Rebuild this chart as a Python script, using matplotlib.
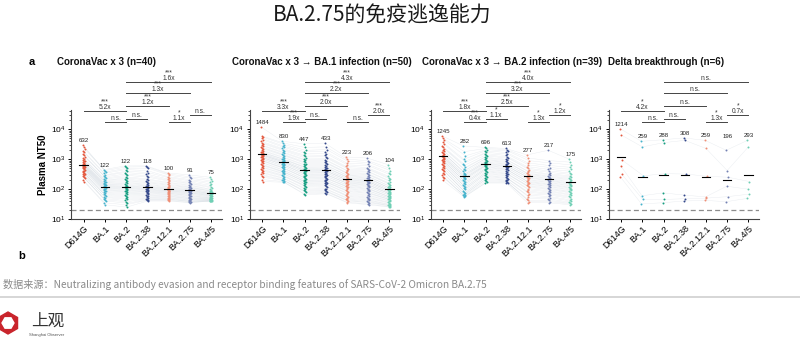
import numpy as np
import matplotlib
matplotlib.use('Agg')
import matplotlib.pyplot as plt
from matplotlib.patches import RegularPolygon
from matplotlib.transforms import blended_transform_factory

plt.rcParams['font.family'] = ['Liberation Sans', 'DejaVu Sans']
plt.rcParams['mathtext.fontset'] = 'custom'
plt.rcParams['mathtext.rm'] = 'Liberation Sans'
CJK = ['Noto Sans CJK SC', 'DejaVu Sans']

variants = ['D614G', 'BA.1', 'BA.2', 'BA.2.38', 'BA.2.12.1', 'BA.2.75', 'BA.4/5']
colors = ['#e4573d', '#45b3cc', '#159e80', '#33478a', '#ef8f76', '#7381b3', '#6fcfb4']

titles = ['CoronaVac x 3 (n=40)',
          'CoronaVac x 3 \u2192 BA.1 infection (n=50)',
          'CoronaVac x 3 \u2192 BA.2 infection (n=39)',
          'Delta breakthrough (n=6)']

# geometric mean titres printed above each column
gmt_vac3 = [632, 122, 122, 118, 100, 91, 75]
gmt_ba1 = [1484, 830, 447, 433, 223, 206, 104]
gmt_ba2 = [1245, 282, 696, 613, 277, 217, 175]
gmt_delta = [1214, 259, 288, 308, 259, 196, 293]

# individual NT50 values, one list per variant (same subject order)
nt50_vac3 = [
    [3000, 2600, 2200, 1900, 1700, 1500, 1350, 1200, 1100, 1000, 950, 900, 850, 800, 760, 720, 690, 660, 640, 620,
     600, 580, 560, 540, 520, 500, 480, 450, 420, 400, 380, 350, 330, 310, 290, 270, 250, 230, 200, 180],
    [450, 420, 380, 340, 300, 280, 260, 240, 220, 200, 190, 180, 170, 160, 150, 145, 140, 135, 130, 125,
     120, 115, 110, 105, 100, 95, 90, 85, 80, 75, 70, 65, 60, 56, 52, 48, 44, 40, 35, 30],
    [600, 550, 500, 450, 400, 360, 320, 290, 260, 240, 220, 200, 185, 170, 160, 150, 140, 130, 125, 120,
     115, 110, 105, 100, 95, 90, 85, 80, 75, 70, 65, 60, 55, 50, 46, 42, 38, 34, 30, 25],
    [600, 560, 500, 420, 360, 320, 280, 250, 220, 200, 185, 170, 160, 150, 140, 132, 125, 120, 115, 110,
     105, 100, 96, 92, 88, 84, 80, 76, 72, 68, 64, 60, 57, 54, 51, 48, 46, 44, 42, 40],
    [350, 320, 290, 260, 240, 220, 200, 185, 170, 160, 150, 140, 130, 122, 115, 110, 105, 100, 97, 94,
     91, 88, 85, 82, 79, 76, 73, 70, 67, 64, 61, 58, 55, 52, 50, 48, 46, 44, 42, 40],
    [300, 260, 230, 210, 190, 175, 160, 150, 140, 130, 122, 115, 110, 105, 100, 96, 92, 88, 85, 82,
     79, 76, 73, 70, 67, 64, 61, 58, 55, 52, 50, 48, 46, 44, 42, 40, 39, 38, 36, 35],
    [250, 220, 190, 170, 150, 135, 120, 110, 100, 95, 90, 86, 82, 78, 75, 72, 70, 68, 66, 64,
     62, 60, 58, 56, 54, 52, 50, 49, 48, 47, 46, 45, 44, 43, 42, 41, 41, 40, 40, 40],
]
nt50_ba1 = [
    [12000, 6000, 5500, 5000, 4500, 4000, 3600, 3300, 3000, 2800, 2600, 2400, 2200, 2050, 1900, 1800, 1700,
     1600, 1550, 1500, 1450, 1400, 1350, 1300, 1250, 1200, 1150, 1100, 1050, 1000, 950, 900, 850, 800, 750,
     700, 650, 600, 560, 520, 480, 440, 400, 370, 340, 310, 280, 250, 210, 180],
    [4000, 3500, 3100, 2800, 2500, 2300, 2100, 1900, 1750, 1600, 1500, 1400, 1300, 1200, 1120, 1050, 1000,
     950, 900, 870, 840, 810, 780, 750, 720, 690, 660, 630, 600, 570, 540, 510, 480, 450, 420, 400, 380,
     360, 340, 320, 300, 280, 260, 240, 225, 210, 200, 190, 180, 170],
    [3300, 2500, 2000, 1800, 1600, 1400, 1250, 1100, 1000, 920, 850, 780, 720, 670, 620, 580, 540, 510, 480,
     460, 440, 420, 400, 380, 360, 340, 320, 300, 285, 270, 255, 240, 225, 210, 200, 190, 180, 170, 160,
     150, 140, 130, 120, 110, 100, 92, 85, 78, 70, 65],
    [3500, 2600, 2100, 1800, 1550, 1350, 1200, 1080, 980, 900, 830, 770, 710, 660, 610, 570, 530, 500, 470,
     450, 430, 410, 390, 370, 350, 330, 310, 295, 280, 265, 250, 235, 220, 205, 195, 185, 175, 165, 155,
     145, 135, 125, 115, 105, 98, 92, 86, 80, 75, 70],
    [1200, 1000, 850, 750, 650, 580, 520, 470, 430, 400, 370, 345, 320, 300, 285, 270, 255, 240, 230, 220,
     210, 200, 190, 180, 172, 165, 158, 150, 142, 135, 128, 121, 114, 107, 100, 94, 88, 82, 76, 70,
     65, 60, 56, 52, 48, 45, 42, 40, 37, 35],
    [1100, 900, 780, 680, 600, 530, 480, 440, 400, 370, 340, 315, 295, 275, 260, 245, 230, 218, 207, 197,
     188, 180, 172, 164, 156, 148, 140, 132, 125, 118, 111, 104, 97, 91, 85, 80, 75, 70, 65, 60,
     56, 52, 48, 45, 42, 40, 37, 35, 32, 30],
    [650, 500, 420, 360, 310, 270, 240, 215, 195, 180, 165, 152, 140, 130, 122, 115, 109, 104, 99, 95,
     91, 87, 83, 79, 76, 73, 70, 67, 64, 61, 58, 55, 53, 51, 49, 47, 45, 43, 41, 39,
     37, 35, 33, 31, 30, 29, 28, 27, 26, 25],
]
nt50_ba2 = [
    [6000, 5000, 4300, 3700, 3200, 2800, 2500, 2250, 2050, 1900, 1750, 1620, 1500, 1400, 1320, 1250, 1180,
     1120, 1060, 1000, 950, 900, 850, 800, 750, 700, 650, 600, 560, 520, 480, 440, 400, 360, 320, 290,
     260, 230, 200],
    [2800, 1800, 1300, 1000, 850, 720, 620, 540, 480, 430, 390, 360, 330, 310, 290, 275, 260, 245, 230, 215,
     200, 185, 170, 158, 146, 135, 125, 115, 106, 98, 90, 83, 77, 71, 66, 62, 59, 57, 55],
    [2500, 2300, 2100, 1900, 1700, 1550, 1400, 1280, 1170, 1080, 1000, 940, 880, 830, 780, 740, 700, 670,
     640, 610, 580, 550, 520, 490, 460, 430, 400, 375, 350, 325, 300, 280, 260, 240, 220, 200, 185, 170, 160],
    [2300, 2100, 1900, 1700, 1500, 1350, 1200, 1100, 1000, 930, 870, 810, 760, 710, 670, 630, 600, 570, 540,
     510, 480, 455, 430, 405, 380, 355, 330, 310, 290, 270, 250, 235, 220, 205, 195, 185, 175, 165, 160],
    [1400, 1100, 900, 760, 650, 570, 500, 450, 410, 380, 350, 325, 305, 290, 275, 260, 245, 230, 215, 200,
     188, 176, 165, 155, 145, 135, 125, 115, 105, 95, 86, 78, 70, 62, 55, 48, 42, 38, 35],
    [2000, 900, 750, 620, 530, 460, 400, 360, 325, 300, 280, 262, 245, 230, 217, 205, 194, 183, 172, 162,
     152, 143, 134, 126, 118, 110, 102, 95, 88, 81, 75, 69, 63, 57, 52, 47, 42, 38, 35],
    [1000, 800, 650, 540, 460, 400, 350, 310, 280, 255, 235, 215, 198, 183, 170, 160, 150, 141, 133, 125,
     118, 111, 104, 98, 92, 86, 80, 74, 68, 63, 58, 53, 48, 44, 40, 37, 34, 32, 30],
]
nt50_delta = [
    [10500, 6500, 940, 600, 320, 260],
    [4000, 2600, 280, 60, 45, 32],
    [4500, 3600, 330, 75, 45, 35],
    [5200, 4300, 320, 63, 48, 40],
    [4300, 2300, 270, 55, 50, 42],
    [2000, 420, 250, 125, 56, 38],
    [4300, 2600, 180, 100, 68, 49],
]

# comparison brackets (same pairs in every panel)
pairs = [(2, 6), (2, 5), (2, 4), (0, 2), (1, 2), (2, 3), (4, 5), (5, 6)]
stars_vac3 = ['***', '***', '***', '***', '', '', '*', '']
folds_vac3 = ['1.6x', '1.3x', '1.2x', '5.2x', 'n.s.', 'n.s.', '1.1x', 'n.s.']
stars_ba1 = ['***', '***', '***', '***', '***', '', '', '***']
folds_ba1 = ['4.3x', '2.2x', '2.0x', '3.3x', '1.9x', 'n.s.', 'n.s.', '2.0x']
stars_ba2 = ['***', '***', '***', '***', '***', '*', '*', '*']
folds_ba2 = ['4.0x', '3.2x', '2.5x', '1.8x', '0.4x', '1.1x', '1.3x', '1.2x']
stars_delta = ['', '', '', '*', '', '', '*', '*']
folds_delta = ['n.s.', 'n.s.', 'n.s.', '4.2x', 'n.s.', 'n.s.', '1.3x', '0.7x']

W, H = 800, 342
bracket_y = [1.257, 1.156, 1.037, 0.991, 0.890, 0.917, 0.890, 0.954]


def fx(x):
    return x / W


def fy(y):
    return 1 - y / H


def draw_panel(ax, pts, gmt, stars, folds, label_floor=0):
    arr = np.array(pts, dtype=float)
    n = arr.shape[1]
    xs = np.arange(len(variants))
    jit = np.resize([-0.045, 0.0, 0.045, -0.02, 0.02], n)
    for k in range(n):
        ax.plot(xs + jit[k], arr[:, k], color='#bcc7d2', lw=0.3, alpha=0.35, zorder=1)
    for i in xs:
        ax.scatter(i + jit, arr[i], s=2.0, color=colors[i], lw=0, zorder=2)
        ax.plot([i - 0.2, i + 0.2], [gmt[i], gmt[i]], color='k', lw=0.8, zorder=3)
        top = max(arr[i].max(), label_floor)
        ax.annotate(str(gmt[i]), (i, top), xytext=(0, 1.5), textcoords='offset points',
                    ha='center', va='bottom', fontsize=4.4, color='#222222')
    ax.axhline(20, color='#8c8c8c', lw=0.9, ls=(0, (4, 2.5)), zorder=0)

    ax.set_yscale('log')
    ax.set_ylim(10, 10 ** 4.65)
    ax.set_xlim(-0.6, 6.5)
    ax.set_xticks(xs)
    ax.set_xticklabels(variants, rotation=45, ha='right', rotation_mode='anchor', fontsize=6.5)
    ax.tick_params(axis='y', which='major', labelsize=6, length=2.5, width=0.7, pad=1.5)
    ax.tick_params(axis='y', which='minor', length=1.3, width=0.5)
    ax.tick_params(axis='x', length=2, width=0.7, pad=1.5)
    for s in ('top', 'right'):
        ax.spines[s].set_visible(False)
    for s in ('left', 'bottom'):
        ax.spines[s].set_linewidth(0.8)
        ax.spines[s].set_color('#444444')

    # significance brackets: stars stacked over the fold change
    tr = blended_transform_factory(ax.transData, ax.transAxes)
    for (i, j), yb, st, fd in zip(pairs, bracket_y, stars, folds):
        ax.plot([i, j], [yb, yb], transform=tr, color='#444444', lw=0.7, clip_on=False)
        label = f'{st}\n{fd}' if st else fd
        ax.annotate(label, ((i + j) / 2, yb), xycoords=tr, xytext=(0, 0.3), textcoords='offset points',
                    ha='center', va='bottom', fontsize=4.8, linespacing=0.55, color='#333333',
                    annotation_clip=False)


fig = plt.figure(figsize=(8, 3.42), dpi=100)

lefts = [71, 249.5, 430.5, 608.5]
title_x = [57, 232, 422, 608]
panels = [(nt50_vac3, gmt_vac3, stars_vac3, folds_vac3, 0),
          (nt50_ba1, gmt_ba1, stars_ba1, folds_ba1, 0),
          (nt50_ba2, gmt_ba2, stars_ba2, folds_ba2, 0),
          (nt50_delta, gmt_delta, stars_delta, folds_delta, 4000)]

for k, (pts, gmt, st, fd, floor) in enumerate(panels):
    ax = fig.add_axes([fx(lefts[k]), fy(219), 150.5 / W, 109 / H])
    draw_panel(ax, pts, gmt, st, fd, floor)
    fig.text(fx(title_x[k]), fy(62), titles[k], ha='left', va='center',
             fontsize=7, fontweight='bold', color='#111111')
    if k == 0:
        ax.set_ylabel('Plasma NT50', fontsize=7, fontweight='bold', labelpad=2)

fig.text(fx(32), fy(62), 'a', fontsize=8, fontweight='bold', ha='center', va='center')
fig.text(fx(22), fy(256), 'b', fontsize=8, fontweight='bold', ha='center', va='center')

fig.text(fx(382), fy(16), 'BA.2.75的免疫逃逸能力', family=CJK, fontsize=15, fontweight='medium',
         ha='center', va='center', color='#1a1a1a')
fig.text(fx(3), fy(285), '数据来源：Neutralizing antibody evasion and receptor binding features of '
         'SARS-CoV-2 Omicron BA.2.75', family=CJK, fontsize=7.3, ha='left', va='center', color='#8a8a8a')

# footer: separator and logo
lay = fig.add_axes([0, 0, 1, 1], zorder=-1)
lay.set_xlim(0, W)
lay.set_ylim(H, 0)
lay.axis('off')
lay.plot([0, W], [297, 297], color='#d0d0d0', lw=1.2)
lay.add_patch(RegularPolygon((8, 323), numVertices=6, radius=11, orientation=0, color='#c9252c'))
lay.add_patch(RegularPolygon((8, 323), numVertices=6, radius=6, orientation=np.pi / 6, color='white'))
fig.text(fx(31), fy(321), '上观', family=CJK, fontsize=12, ha='left', va='center', color='#333333')
fig.text(fx(29), fy(335), 'Shanghai Observer', fontsize=3, ha='left', va='center', color='#555555')

fig.savefig('out.png', dpi=100)
